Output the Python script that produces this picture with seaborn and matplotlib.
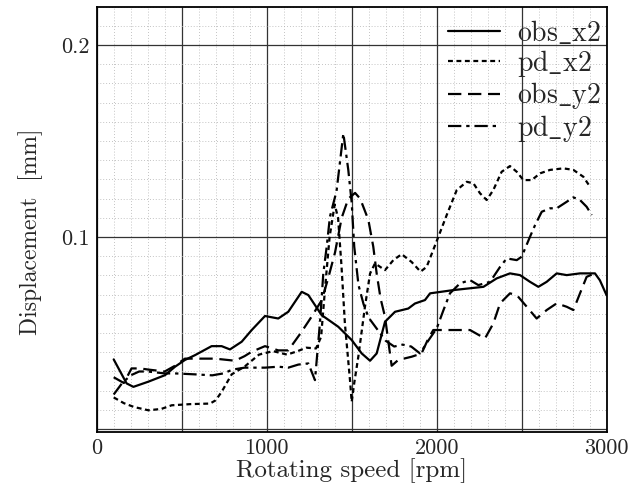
import numpy as np
import pandas as pd
import seaborn as sns
import matplotlib.pyplot as plt
from matplotlib.ticker import MultipleLocator

# values
obs_x2_rpm = [100, 176, 216, 304, 402, 461, 519, 578, 676, 735, 784, 853, 912, 990, 1068, 1127, 1206, 1245,
              1323, 1421, 1500, 1559, 1608, 1647, 1696, 1755, 1833, 1872, 1931, 1961, 2098, 2275, 2353, 2431,
              2490, 2549, 2598, 2647, 2706, 2765, 2843, 2931, 2960, 3000]
obs_x2 = [0.0363, 0.0238, 0.0220, 0.0247, 0.0281, 0.0325, 0.0360, 0.0385, 0.0432, 0.0432, 0.0415, 0.0455,
          0.0516, 0.0589, 0.0576, 0.0611, 0.0715, 0.0698, 0.0594, 0.0533, 0.0464, 0.0394, 0.0356, 0.0394,
          0.0559, 0.0611, 0.0628, 0.0654, 0.0672, 0.0707, 0.0724, 0.0741, 0.0785, 0.0811, 0.0802, 0.0767,
          0.0741, 0.0767, 0.0811, 0.0802, 0.0811, 0.0811, 0.0775, 0.0696]

pd_x2_rpm = [100, 160, 220, 304, 380, 441, 550, 667, 700, 735, 794, 872, 955, 1037, 1120, 1182, 1233, 1290,
             1320, 1345, 1370, 1400, 1420, 1440, 1460, 1490, 1500, 1515, 1539, 1578, 1608, 1637, 1696, 1745,
             1794, 1853, 1905, 1941, 2010, 2059, 2118, 2177, 2216, 2255, 2294, 2333, 2382, 2431, 2471, 2510,
             2559, 2608, 2667, 2745, 2804, 2863, 2902]
pd_x2 = [0.0165, 0.0135, 0.0115, 0.0098, 0.0105, 0.0124, 0.013, 0.0133, 0.015, 0.0194, 0.0285, 0.0327,
         0.0388, 0.0406, 0.0388, 0.0406, 0.0424, 0.042, 0.048, 0.075, 0.10, 0.117, 0.11, 0.085, 0.055,
         0.0255, 0.0142, 0.024, 0.0377, 0.0637, 0.081, 0.0863, 0.0828, 0.088, 0.0911, 0.087, 0.082, 0.0845,
         0.1002, 0.1115, 0.1245, 0.1288, 0.128, 0.1228, 0.1193, 0.1245, 0.134, 0.137, 0.134, 0.1297, 0.1297,
         0.1332, 0.135, 0.1358, 0.135, 0.1314, 0.1262]

obs_y2_rpm = [100, 160, 205, 255, 304, 400, 461, 519, 600, 696, 814, 870, 912, 990, 1068, 1127, 1200, 1260,
              1323, 1360, 1402, 1441, 1480, 1520, 1550, 1598, 1627, 1647, 1670, 1696, 1715, 1735, 1774, 1853,
              1911, 1950, 1980, 2098, 2196, 2284, 2333, 2373, 2431, 2471, 2530, 2588, 2647, 2706, 2765, 2804,
              2843, 2882, 2930]
obs_y2 = [0.027, 0.024, 0.0316, 0.0316, 0.031, 0.030, 0.033, 0.0367, 0.0367, 0.0367, 0.0356, 0.038, 0.0403,
          0.0432, 0.041, 0.041, 0.050, 0.058, 0.067, 0.078, 0.092, 0.110, 0.120, 0.123, 0.120, 0.109, 0.095,
          0.081, 0.068, 0.0585, 0.046, 0.033, 0.036, 0.0377, 0.0394, 0.047, 0.0516, 0.0516, 0.0516, 0.0472,
          0.055, 0.0655, 0.0707, 0.0698, 0.0637, 0.0576, 0.062, 0.0655, 0.0637, 0.062, 0.0707, 0.0793, 0.0811]

pd_y2_rpm = [100, 150, 200, 250, 300, 400, 461, 580, 680, 745, 800, 870, 990, 1068, 1127, 1186, 1245, 1284,
             1313, 1333, 1353, 1372, 1411, 1451, 1480, 1500, 1515, 1540, 1570, 1600, 1650, 1700, 1750, 1800,
             1850, 1902, 1950, 2000, 2040, 2078, 2137, 2196, 2245, 2314, 2373, 2412, 2471, 2500, 2549, 2579,
             2618, 2667, 2706, 2765, 2804, 2843, 2882, 2912]
pd_y2 = [0.018, 0.024, 0.028, 0.030, 0.030, 0.029, 0.029, 0.0285, 0.028, 0.029, 0.031, 0.032, 0.032, 0.0325,
         0.032, 0.0336, 0.0342, 0.0255, 0.055, 0.081, 0.095, 0.1106, 0.124, 0.154, 0.135, 0.118, 0.095, 0.075,
         0.065, 0.058, 0.052, 0.046, 0.043, 0.044, 0.043, 0.0394, 0.046, 0.0524, 0.062, 0.0707, 0.0759, 0.0776,
         0.075, 0.0767, 0.0845, 0.0889, 0.088, 0.0898, 0.1002, 0.1063, 0.1132, 0.115, 0.115, 0.1184, 0.1207,
         0.1193, 0.1158, 0.1115]

series = ["obs_x2", "pd_x2", "obs_y2", "pd_y2"]
frames = []
for name, r, v in zip(series, [obs_x2_rpm, pd_x2_rpm, obs_y2_rpm, pd_y2_rpm], [obs_x2, pd_x2, obs_y2, pd_y2]):
    frames.append(pd.DataFrame({"rpm": r, "disp": v, "series": name}))
df = pd.concat(frames, ignore_index=True)

sns.set_style("white")
plt.rcParams['font.family'] = ['cmr10', 'DejaVu Serif']
plt.rcParams['mathtext.fontset'] = 'cm'
plt.rcParams['axes.formatter.use_mathtext'] = True

fig = plt.figure(figsize=(6.42, 4.92), dpi=100)
ax = fig.add_axes([0.1506, 0.122, 0.7944, 0.8644])

dashes = {"obs_x2": "", "pd_x2": (2.2, 1.6), "obs_y2": (6, 3), "pd_y2": (6, 2.2, 1.5, 2.2)}
sns.lineplot(data=df, x="rpm", y="disp", style="series", dashes=dashes, color="black",
             linewidth=1.6, estimator=None, sort=False, ax=ax)

ax.set_xlim(0, 3000)
ax.set_ylim(-0.0015, 0.22)
ax.xaxis.set_major_locator(MultipleLocator(500))
ax.xaxis.set_minor_locator(MultipleLocator(100))
ax.yaxis.set_major_locator(MultipleLocator(0.1))
ax.yaxis.set_minor_locator(MultipleLocator(0.01))
ax.grid(which="major", color="#333333", linewidth=0.9, linestyle="-")
ax.grid(which="minor", color="#b0b0b0", linewidth=0.6, linestyle=(0, (1, 2.5)))
ax.set_axisbelow(True)

ax.set_xticks([0, 500, 1000, 1500, 2000, 2500, 3000])
ax.set_xticklabels(["0", "", "1000", "", "2000", "", "3000"])
ax.set_yticks([0, 0.1, 0.2])
ax.set_yticklabels(["", "0.1", "0.2"])
ax.tick_params(length=0, labelsize=16, pad=5)

for s in ax.spines.values():
    s.set_color("black")
    s.set_linewidth(1.3)

ax.set_xlabel("Rotating speed [rpm]", fontsize=18, labelpad=0)
ax.set_ylabel("Displacement  [mm]", fontsize=17, labelpad=10)
ax.yaxis.set_label_coords(-0.105, 0.47)

# legend text: TeX style underscore from the typewriter face
handles, labels = ax.get_legend_handles_labels()
labels = [lab.replace("_", r"$\mathtt{\_}$") for lab in labels]
ax.legend(handles, labels, loc="upper right", bbox_to_anchor=(1.0, 0.985), frameon=False, fontsize=20,
          handlelength=1.9, labelspacing=0.05, handletextpad=0.6, borderaxespad=0.0, borderpad=0.2)

fig.savefig("out.png", dpi=100)
